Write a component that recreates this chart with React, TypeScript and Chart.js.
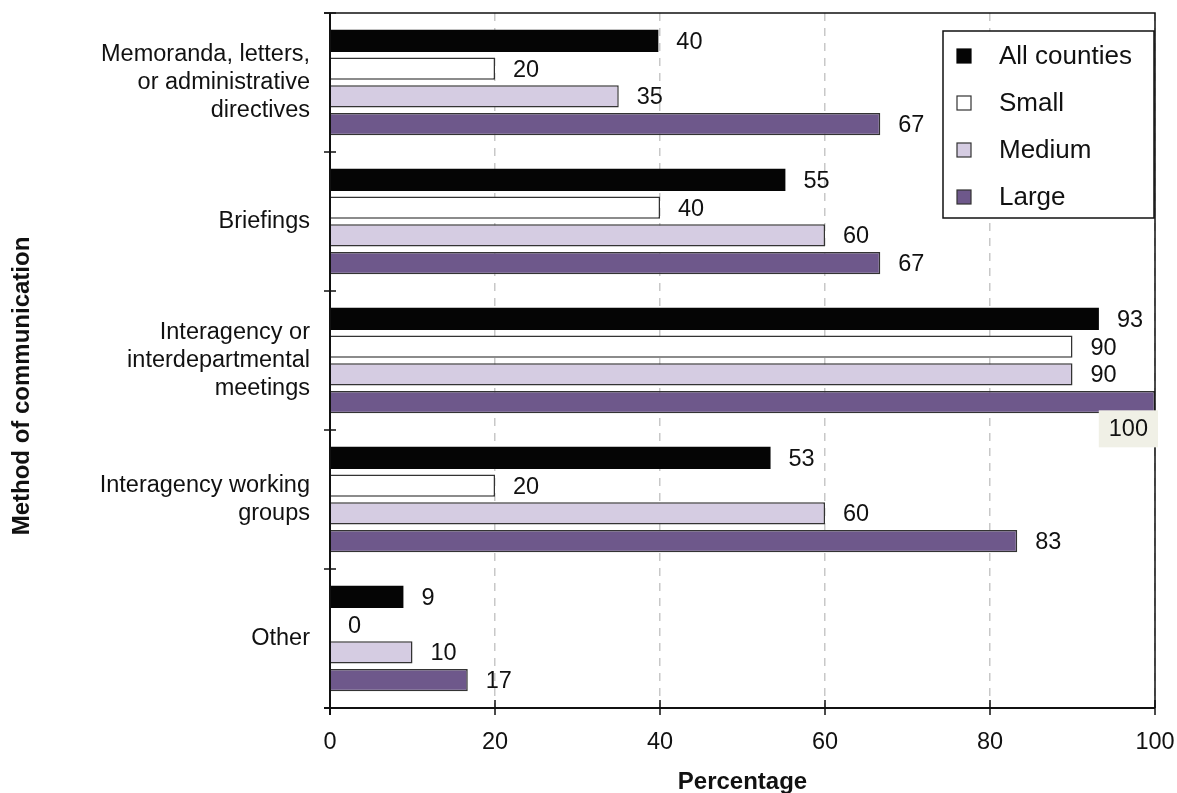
import React, { useEffect, useRef } from "react";
import { Chart, registerables } from "chart.js";
Chart.register(...registerables);

// ---------- data ----------
const categories: string[][] = [
  ["Memoranda, letters,", "or administrative", "directives"],
  ["Briefings"],
  ["Interagency or", "interdepartmental", "meetings"],
  ["Interagency working", "groups"],
  ["Other"],
];
const seriesNames = ["All counties", "Small", "Medium", "Large"];
const allCounties = [39.8, 55.2, 93.2, 53.4, 8.9];
const small = [20, 40, 90, 20, 0];
const medium = [35, 60, 90, 60, 10];
const large = [66.7, 66.7, 100, 83.3, 16.7];
const xTickValues = [0, 20, 40, 60, 80, 100];
const xTitle = "Percentage";
const yTitle = "Method of communication";

// ---------- styles ----------
const FONT = '"Liberation Sans", Arial, Helvetica, sans-serif';
const fills = ["#050505", "#ffffff", "#D5CCE2", "#6E588B"];
const borders = ["#050505", "#333333", "#333333", "#333333"];
const TEXT = "#111111";

const overlay = {
  id: "overlay",
  afterDraw(chart: any) {
    const { ctx, chartArea: ca, scales } = chart;
    const xs = scales.x;
    const ys = scales.y;
    ctx.save();

    // frame (top & right)
    ctx.strokeStyle = "#111";
    ctx.lineWidth = 1.5;
    ctx.beginPath();
    ctx.moveTo(ca.left - 6, ca.top);
    ctx.lineTo(ca.right, ca.top);
    ctx.lineTo(ca.right, ca.bottom);
    ctx.stroke();

    // axes
    ctx.lineWidth = 2;
    ctx.beginPath();
    ctx.moveTo(ca.left, ca.top);
    ctx.lineTo(ca.left, ca.bottom + 7);
    ctx.moveTo(ca.left - 6, ca.bottom);
    ctx.lineTo(ca.right, ca.bottom);
    ctx.stroke();

    // category tick marks at band boundaries
    ctx.lineWidth = 1.5;
    ctx.beginPath();
    for (let k = 0; k <= categories.length; k++) {
      const py = ys.getPixelForValue(k - 0.5);
      ctx.moveTo(ca.left - 6, py);
      ctx.lineTo(ca.left + 6, py);
    }
    ctx.stroke();

    // x tick marks crossing the axis
    ctx.lineWidth = 1.5;
    ctx.beginPath();
    xTickValues.forEach((v) => {
      const px = xs.getPixelForValue(v);
      ctx.moveTo(px, ca.bottom - 8);
      ctx.lineTo(px, ca.bottom + 7);
    });
    ctx.stroke();

    // data labels
    ctx.font = `23.5px ${FONT}`;
    ctx.textBaseline = "middle";
    chart.data.datasets.forEach((ds: any, di: number) => {
      const meta = chart.getDatasetMeta(di);
      meta.data.forEach((bar: any, i: number) => {
        const v = ds.data[i];
        const txt = String(Math.round(v));
        const w = ctx.measureText(txt).width;
        const tx = bar.x + 18;
        if (tx + w > ca.right) {
          const bw = w + 20;
          const bh = 37;
          const bx = ca.right + 3 - bw;
          const by = bar.y + bar.height / 2 - 3;
          ctx.fillStyle = "#F0F0E6";
          ctx.fillRect(bx, by, bw, bh);
          ctx.fillStyle = TEXT;
          ctx.textAlign = "center";
          ctx.fillText(txt, bx + bw / 2, by + bh / 2 + 1);
        } else {
          ctx.fillStyle = TEXT;
          ctx.textAlign = "left";
          ctx.fillText(txt, tx, bar.y + 1.5);
        }
      });
    });

    // legend
    const lw = 211;
    const lh = 187;
    const lx = ca.right - lw - 1;
    const ly = ca.top + 18;
    ctx.fillStyle = "#fff";
    ctx.fillRect(lx, ly, lw, lh);
    ctx.strokeStyle = "#111";
    ctx.lineWidth = 1.5;
    ctx.strokeRect(lx, ly, lw, lh);
    ctx.font = `26px ${FONT}`;
    ctx.textAlign = "left";
    ctx.textBaseline = "middle";
    chart.data.datasets.forEach((ds: any, di: number) => {
      const cy = ly + 25 + di * 47;
      ctx.fillStyle = fills[di];
      ctx.fillRect(lx + 14, cy - 7, 14, 14);
      ctx.strokeStyle = borders[di];
      ctx.lineWidth = 1.2;
      ctx.strokeRect(lx + 14, cy - 7, 14, 14);
      ctx.fillStyle = TEXT;
      ctx.fillText(ds.label, lx + 56, cy + 1);
    });

    // axis titles
    ctx.font = `bold 24px ${FONT}`;
    ctx.fillStyle = TEXT;
    ctx.textAlign = "center";
    ctx.textBaseline = "middle";
    ctx.fillText(xTitle, (ca.left + ca.right) / 2, 782);
    ctx.translate(22, 386);
    ctx.rotate(-Math.PI / 2);
    ctx.fillText(yTitle, 0, 0);

    ctx.restore();
  },
};

export default function App() {
  const ref = useRef<HTMLCanvasElement | null>(null);
  useEffect(() => {
    document.body.style.margin = "0";
    const canvas = ref.current!;
    const seriesData = [allCounties, small, medium, large];
    const chart = new Chart(canvas, {
      type: "bar",
      data: {
        labels: categories,
        datasets: seriesData.map((d, i) => ({
          label: seriesNames[i],
          data: d,
          backgroundColor: fills[i],
          borderColor: borders[i],
          borderWidth: i === 0 ? 0 : 1.5,
          barPercentage: 0.8,
          categoryPercentage: 0.8,
        })),
      },
      options: {
        indexAxis: "y",
        responsive: false,
        animation: false,
        devicePixelRatio: 1,
        layout: { padding: { left: 0, right: 22, top: 13, bottom: 0 } },
        plugins: {
          legend: { display: false },
          tooltip: { enabled: false },
          title: { display: false },
        },
        scales: {
          x: {
            type: "linear",
            min: 0,
            max: 100,
            ticks: {
              stepSize: 20,
              font: { family: FONT, size: 23.5 },
              color: TEXT,
              padding: 20,
            },
            grid: {
              color: "#c8c8c8",
              lineWidth: 1.5,
              drawTicks: false,
            },
            border: { display: false, dash: [8, 7] },
            afterFit: (s: any) => {
              s.height = 85;
              s.paddingLeft = 0;
              s.paddingRight = 0;
            },
          },
          y: {
            type: "category",
            ticks: {
              font: { family: FONT, size: 23.5, lineHeight: 1.2 },
              color: TEXT,
              padding: 20,
            },
            grid: { display: false, drawTicks: false },
            border: { display: false },
            afterFit: (s: any) => {
              s.width = 330;
              s.paddingTop = 0;
              s.paddingBottom = 0;
            },
          },
        },
      },
      plugins: [overlay],
    } as any);
    return () => chart.destroy();
  }, []);
  return (
    <div style={{ width: 1177, height: 793, background: "#fff" }}>
      <canvas ref={ref} width={1177} height={793} style={{ display: "block" }} />
    </div>
  );
}
